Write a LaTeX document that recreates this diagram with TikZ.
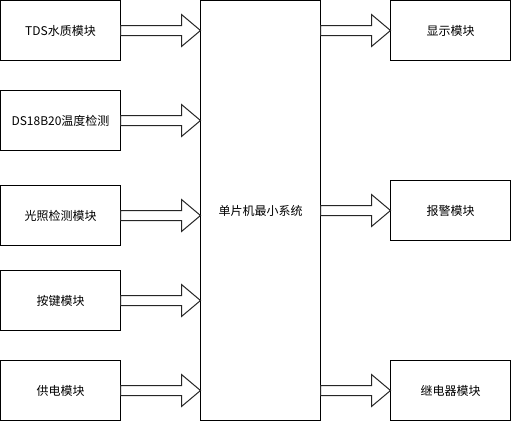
\documentclass[tikz,border=0pt]{standalone}
\usepackage{fontspec}
\setmainfont{Noto Sans CJK SC}
\usepackage{tikz}
\usetikzlibrary{calc}

\tikzset{
	module/.style={draw=black, line width=1pt, fill=white, minimum width=120pt,
		minimum height=60pt, inner sep=0pt, outer sep=0pt,
		font=\fontsize{12}{14}\selectfont},
	blockline/.style={draw=black!85, line width=1pt, fill=white, line join=miter}
}

% hollow block arrow between two points on one horizontal line
\newcommand{\blockarrow}[2]{%
	\draw[blockline] let \p1=(#1), \p2=(#2) in
		(\x1,\y1+5pt) -- (\x2-19pt,\y1+5pt) -- (\x2-19pt,\y1+16pt) -- (\x2,\y1)
		-- (\x2-19pt,\y1-16pt) -- (\x2-19pt,\y1-5pt) -- (\x1,\y1-5pt) -- cycle;}

\begin{document}
\begin{tikzpicture}[x=1pt,y=-1pt]
	\useasboundingbox (-0.5,-0.5) rectangle (510.5,420.5);

	% inputs
	\node[module] (tds)   at (60,30)  {TDS水质模块};
	\node[module] (temp)  at (60,120) {DS18B20温度检测};
	\node[module] (light) at (60,215) {光照检测模块};
	\node[module] (key)   at (60,300) {按键模块};
	\node[module] (power) at (60,390) {供电模块};

	% mcu
	\node[module, minimum height=420pt] (mcu) at (260,210) {单片机最小系统};

	% outputs
	\node[module] (disp)  at (450,30)  {显示模块};
	\node[module] (alarm) at (450,210) {报警模块};
	\node[module] (relay) at (450,390) {继电器模块};

	\foreach \src in {tds,temp,light,key,power}
		\blockarrow{\src.east}{mcu.west|-\src.east};
	\foreach \dst in {disp,alarm,relay}
		\blockarrow{mcu.east|-\dst.west}{\dst.west};

\end{tikzpicture}
\end{document}
